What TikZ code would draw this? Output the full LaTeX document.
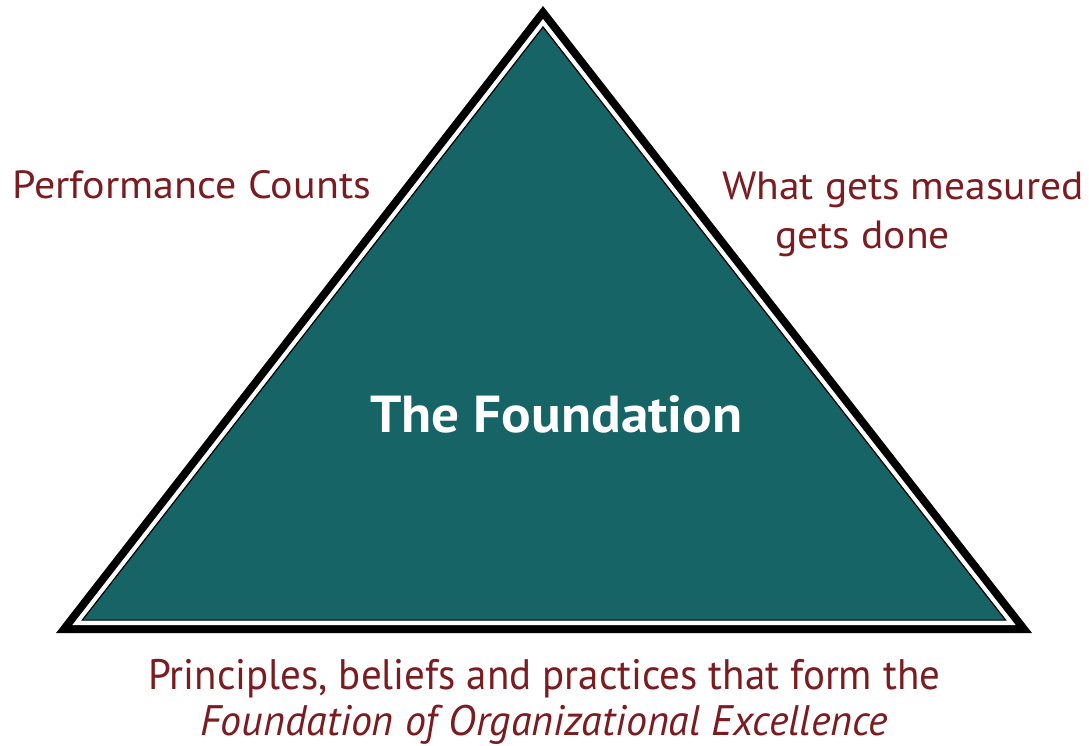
\documentclass[tikz,border=0pt]{standalone}
\usepackage{graphicx}
\usepackage{fontspec}
\setmainfont{PT Sans}
\usetikzlibrary{calc}
\definecolor{tealfill}{RGB}{23,100,103}
\definecolor{labelred}{RGB}{122,28,32}
\newcommand\fitw[2]{\resizebox{#1}{\height}{#2}}
\tikzset{
  lbl/.style={anchor=base west,inner sep=0pt,text=labelred,font=\fontsize{29.5}{35}\selectfont},
  lblbig/.style={lbl,font=\fontsize{32}{38}\selectfont},
  ttl/.style={anchor=base west,inner sep=0pt,text=white,font=\fontsize{39}{47}\selectfont\bfseries}
}
\begin{document}
\begin{tikzpicture}[x=0.75pt,y=-0.75pt]
\useasboundingbox (0,0) rectangle (1089,746);
\coordinate (A) at (543,6);
\coordinate (B) at (56,633);
\coordinate (C) at (1032,633);
\coordinate (I) at (543.4,394.4);
\fill[black] (A)--(B)--(C)--cycle;
\fill[white] ($(I)!0.9665!(A)$)--($(I)!0.9665!(B)$)--($(I)!0.9665!(C)$)--cycle;
\filldraw[fill=tealfill,draw=black,line width=0.9pt] ($(I)!0.946!(A)$)--($(I)!0.946!(B)$)--($(I)!0.946!(C)$)--cycle;
\node[ttl] (title) at (370,432) {\fitw{279pt}{The Foundation}};
\node[lbl] (perf) at (12,198) {\fitw{269pt}{Performance Counts}};
\node[lbl] (meas) at (722,199) {\fitw{271pt}{What gets measured}};
\node[lbl] (done) at (775,248) {\fitw{131pt}{gets done}};
\node[lblbig] (princ) at (148,689) {\fitw{594pt}{Principles, beliefs and practices that form the}};
\node[lblbig] (found) at (200,735) {\fitw{516pt}{\itshape Foundation of Organizational Excellence}};
\end{tikzpicture}
\end{document}
